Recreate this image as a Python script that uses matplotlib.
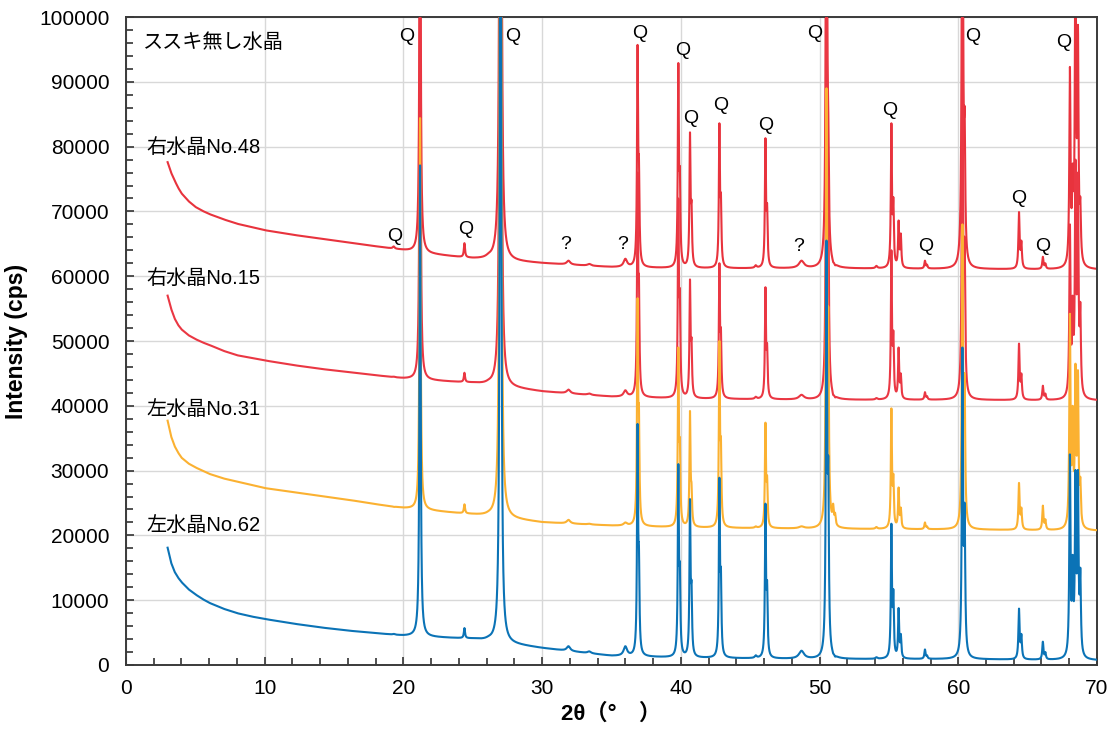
"""XRD patterns of quartz samples, stacked."""
import numpy as np
import matplotlib
matplotlib.use("Agg")
import matplotlib.pyplot as plt

plt.rcParams["font.family"] = ["Liberation Sans", "Noto Sans CJK JP"]

# ---- peak table (2theta, half width) shared by all samples ----
peak_pos = [19.3, 21.2, 24.4, 26.15, 27.0, 31.9, 33.4, 36.0, 36.88, 36.98,
            39.82, 39.93, 40.66, 40.77, 42.78, 42.89, 45.4, 46.1, 46.22, 48.7,
            50.5, 50.63, 50.98, 51.12, 54.1, 55.18, 55.32, 55.7, 55.86, 57.6,
            57.75, 60.3, 60.46, 64.38, 64.55, 66.1, 66.28, 68.05, 68.25, 68.45,
            68.63, 68.8]
peak_hw = [0.08, 0.05, 0.05, 0.25, 0.05, 0.15, 0.15, 0.15, 0.045, 0.045,
           0.045, 0.045, 0.045, 0.045, 0.045, 0.045, 0.08, 0.045, 0.045, 0.22,
           0.05, 0.05, 0.05, 0.05, 0.08, 0.045, 0.045, 0.045, 0.045, 0.05,
           0.05, 0.05, 0.05, 0.05, 0.05, 0.05, 0.05, 0.05, 0.05, 0.05,
           0.05, 0.05]

# ---- background anchor points (2theta, cps) ----
bg_x = [3.0, 3.25, 3.5, 3.75, 4.0, 4.5, 5.0, 5.5, 6.0, 7.0, 8.0, 9.0, 10.0,
        12.0, 14.0, 16.0, 18.0, 20.0, 22.0, 25.0, 30.0, 35.0, 40.0, 50.0,
        60.0, 70.0]
bg_r48 = [77600, 76000, 74800, 73700, 72800, 71600, 70700, 70100, 69600, 68800,
          68100, 67600, 67100, 66400, 65800, 65200, 64600, 64000, 63400, 62700,
          62000, 61400, 61200, 61200, 61100, 61000]
bg_r15 = [57000, 55000, 53500, 52500, 51800, 50900, 50300, 49800, 49400, 48500,
          47800, 47400, 47000, 46300, 45700, 45200, 44700, 44200, 43900, 43500,
          42200, 41400, 41100, 40900, 40900, 40800]
bg_l31 = [37700, 35300, 33800, 32800, 32000, 31100, 30500, 30000, 29500, 28800,
          28300, 27800, 27300, 26700, 26100, 25500, 24800, 24200, 23800, 23200,
          22000, 21500, 21200, 21000, 20900, 20700]
bg_l62 = [18100, 15800, 14400, 13500, 12800, 11700, 10900, 10200, 9600, 8700,
          8000, 7500, 7100, 6400, 5800, 5300, 4900, 4500, 4300, 4000,
          2600, 1400, 1100, 900, 900, 700]

# ---- peak tops (cps) for each sample, same order as peak_pos ----
top_r48 = [64600, 140000, 65100, 63600, 300000, 62400, 61900, 62700, 95700, 78400,
           92900, 76800, 82200, 71700, 83600, 72800, 61700, 81300, 71200, 62400,
           160000, 86000, 62200, 61700, 61600, 83600, 72200, 68600, 66600, 62400,
           61800, 150000, 86000, 69900, 65500, 63000, 62000, 92300, 77400, 115000,
           98800, 72200]
top_r15 = [44500, 115000, 45100, 44100, 260000, 42500, 41900, 42400, 76000, 60000,
           72000, 58000, 59500, 50500, 62000, 52000, 41400, 58300, 49600, 41700,
           110000, 75000, 41700, 41300, 41200, 64000, 51600, 49000, 45000, 42100,
           41500, 100000, 66000, 49600, 45000, 43100, 41900, 68000, 57000, 78000,
           76000, 56000]
top_l31 = [24400, 84400, 24800, 23800, 250000, 22400, 21800, 22000, 56600, 40000,
           49000, 35000, 39200, 28100, 50000, 35100, 21400, 37400, 29200, 21400,
           89000, 55000, 24900, 23500, 21300, 39600, 29500, 27400, 24300, 22000,
           21400, 68000, 45000, 28100, 24300, 24600, 22500, 54200, 40000, 46500,
           45500, 29000]
top_l62 = [4800, 77100, 5700, 4500, 200000, 2900, 2100, 2900, 37200, 18400,
           31000, 15800, 25600, 13000, 28900, 15000, 1500, 24900, 13000, 2200,
           65500, 32000, 1800, 1300, 1200, 21800, 11700, 8800, 4800, 2400,
           1500, 49000, 25000, 8700, 4800, 3600, 2000, 32500, 17000, 30100,
           30100, 15000]

labels = ["右水晶No.48", "右水晶No.15", "左水晶No.31", "左水晶No.62"]
label_y = [79900, 59700, 39400, 21600]
colors = ["#e8333d", "#ea3743", "#fbb131", "#0b73b6"]

# peak markers: (2theta, cps, text)
marks = [(20.26, 97000, "Q"), (27.9, 97000, "Q"), (37.06, 97400, "Q"),
         (40.16, 94900, "Q"), (40.73, 84400, "Q"), (42.9, 86400, "Q"),
         (46.14, 83200, "Q"), (49.68, 97500, "Q"), (55.08, 85600, "Q"),
         (61.07, 97000, "Q"), (67.63, 96100, "Q"), (19.39, 66150, "Q"),
         (24.51, 67200, "Q"), (31.72, 64900, "?"), (35.83, 64900, "?"),
         (48.52, 64600, "?"), (57.68, 64600, "Q"), (64.38, 72000, "Q"),
         (66.11, 64600, "Q")]


def pattern(tt, bg_y, tops):
    pos = np.array(peak_pos)
    hw = np.array(peak_hw)
    base = np.interp(tt, bg_x, bg_y)
    # solve for amplitudes so that the summed profile hits each top
    A = 1.0 / (1.0 + ((pos[:, None] - pos[None, :]) / hw[None, :]) ** 2)
    amp = np.linalg.solve(A, np.array(tops) - np.interp(pos, bg_x, bg_y))
    prof = 1.0 / (1.0 + ((tt[:, None] - pos[None, :]) / hw[None, :]) ** 2)
    return base + prof @ amp


tt = np.arange(3.0, 70.0001, 0.005)
series = [(bg_r48, top_r48), (bg_r15, top_r15), (bg_l31, top_l31), (bg_l62, top_l62)]

fig = plt.figure(figsize=(11.14, 7.31), dpi=100)
ax = fig.add_axes([0.1131, 0.0903, 0.8716, 0.8864])

for i, (bg_y, tops) in enumerate(series):
    ax.plot(tt, pattern(tt, bg_y, tops), color=colors[i], lw=1.5, zorder=2 + i)
    ax.text(1.5, label_y[i], labels[i], fontsize=14.5, va="center", ha="left")

ax.text(1.2, 96000, "ススキ無し水晶", fontsize=14.5, va="center", ha="left")

for x, y, s in marks:
    ax.text(x, y, s, fontsize=14, ha="center", va="center", zorder=10)

ax.set_xlim(0, 70)
ax.set_ylim(0, 100000)
ax.set_xticks(np.arange(0, 71, 10))
ax.set_xticks(np.arange(0, 71, 2), minor=True)
ax.set_yticks(np.arange(0, 100001, 10000))
ax.set_yticks(np.arange(0, 100001, 2000), minor=True)
ax.grid(True, which="major", color="#d8d8d8", lw=1.0, zorder=0)
ax.set_axisbelow(True)
ax.tick_params(which="both", direction="in", labelsize=15, color="#333333")
ax.tick_params(which="major", length=6, width=1.2)
ax.tick_params(which="minor", length=5, width=1.2)
ax.tick_params(axis="y", pad=12)
ax.tick_params(axis="x", pad=10)
for sp in ax.spines.values():
    sp.set_color("#3a3a3a")
    sp.set_linewidth(1.4)

ax.set_ylabel("Intensity (cps)", fontsize=16.5, fontweight="bold", labelpad=8)
ax.set_xlabel("2θ（°\u3000）", fontsize=16, fontweight="bold", labelpad=4)

fig.savefig("out.png", dpi=100)
